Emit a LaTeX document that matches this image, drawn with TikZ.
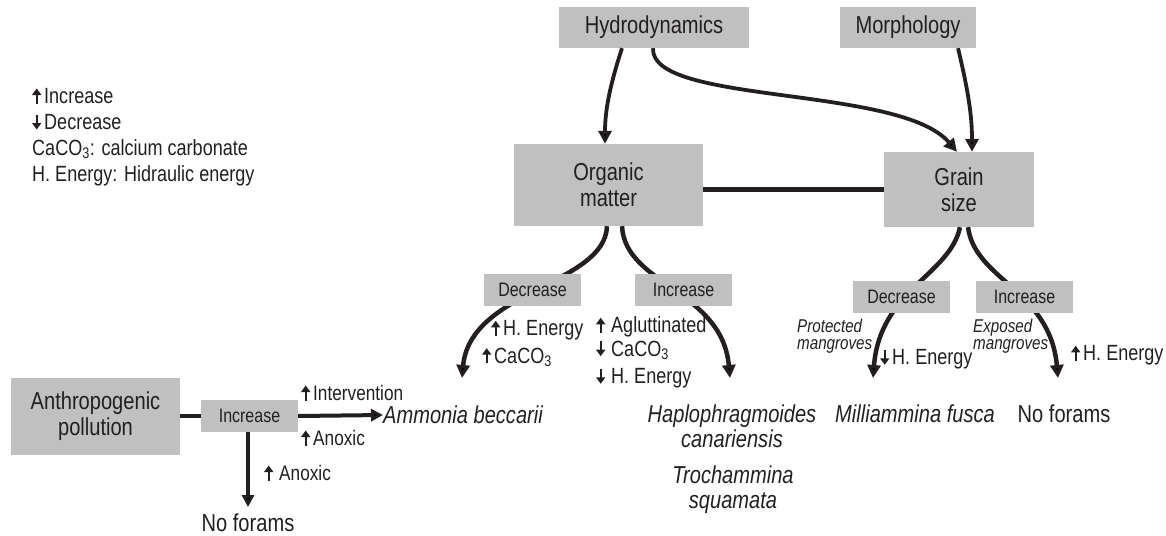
\documentclass[tikz,border=0pt]{standalone}
\usepackage{fontspec}
\setmainfont[FakeStretch=0.82]{Liberation Sans}
\usetikzlibrary{arrows.meta}
\definecolor{ink}{HTML}{231F20}
\definecolor{boxgray}{HTML}{C0C0C0}
% small up / down arrows used inside the labels
\newcommand{\upar}{\tikz[baseline=0pt]\draw[ink,line width=2.2pt,-{Triangle[length=6.5pt,width=9pt]}] (0pt,0pt) -- (0pt,15pt);\hspace{3pt}}
\newcommand{\dnar}{\tikz[baseline=0pt]\draw[ink,line width=2.2pt,-{Triangle[length=6.5pt,width=9pt]}] (0pt,15pt) -- (0pt,0pt);\hspace{3pt}}

\begin{document}
\begin{tikzpicture}[x=1pt, y=-1pt,
      box/.style={fill=boxgray, inner sep=0pt, align=center, text=ink,
        font=\fontsize{24.5}{26}\selectfont},
      smallbox/.style={fill=boxgray, inner sep=0pt, minimum width=97pt,
        minimum height=32pt, text=ink, font=\fontsize{19.5}{21}\selectfont},
      lbl/.style={text=ink, inner sep=0pt, anchor=west, font=\fontsize{22}{23}\selectfont},
      species/.style={text=ink, inner sep=0pt, align=center,
        font=\fontsize{24.5}{25}\selectfont\itshape},
      mangr/.style={text=ink, inner sep=0pt, anchor=west, align=left,
        font=\fontsize{18.5}{17}\selectfont\itshape},
      link/.style={draw=ink, line width=4.5pt},
      flow/.style={link, -{Triangle[length=13pt,width=13pt]}}]
    \useasboundingbox (0,0) rectangle (1166,535);

    % legend
    \node[lbl] (lgup) at (32,96) {\upar Increase};
    \node[lbl] (lgdn) at (32,122) {\dnar Decrease};
    \node[lbl] (lgca) at (32,149) {CaCO\textsubscript{3}: calcium carbonate};
    \node[lbl] (lghe) at (32,176) {H. Energy: Hidraulic energy};

    % main boxes
    \node[box, minimum width=190pt, minimum height=41pt] (hydro) at (654,27.5) {Hydrodynamics};
    \node[box, minimum width=136pt, minimum height=41pt] (morph) at (908,27.5) {Morphology};
    \node[box, minimum width=189pt, minimum height=82pt] (om) at (608.5,185) {Organic\\matter};
    \node[box, minimum width=150pt, minimum height=75pt] (gs) at (959,189.5) {Grain\\size};

    \draw[flow, line width=3.8pt] ([xshift=-32pt]hydro.south) .. controls (610,85) and (605,110) .. ([xshift=-3.5pt]om.north);
    \draw[flow, line width=3.8pt] ([xshift=-1pt]hydro.south) .. controls (650,105) and (900,85) .. ([xshift=-2pt]gs.north);
    \draw[flow, line width=3.8pt] ([xshift=50pt]morph.south) .. controls (968,90) and (972,115) .. ([xshift=13pt]gs.north);
    \draw[link] (gs.west) -- (gs.west -| om.east);

    % branches below organic matter and grain size
    \coordinate (omL) at (462,378);
    \coordinate (omR) at (730,378);
    \coordinate (gsL) at (873,378);
    \coordinate (gsR) at (1058,378);
    \draw[flow] ([xshift=-1.5pt]om.south) .. controls (605,285) and (470,290) .. (omL);
    \draw[flow] ([xshift=13.5pt]om.south) .. controls (625,285) and (722,290) .. (omR);
    \draw[flow] ([xshift=1pt]gs.south) .. controls (950,275) and (880,290) .. (gsL);
    \draw[flow] ([xshift=9pt]gs.south) .. controls (975,280) and (1050,290) .. (gsR);

    \node[smallbox] (omdec) at (532.5,290) {Decrease};
    \node[smallbox] (ominc) at (683.5,290) {Increase};
    \node[smallbox] (gsdec) at (901.5,296.5) {Decrease};
    \node[smallbox] (gsinc) at (1024.5,296.5) {Increase};

    \node[lbl] (omdecE) at (491,330) {\upar H. Energy};
    \node[lbl] (omdecC) at (482,357) {\upar CaCO\textsubscript{3}};
    \node[lbl] (omincA) at (596,327) {\upar\hspace{3pt}Agluttinated};
    \node[lbl] (omincC) at (596,350) {\dnar\hspace{3pt}CaCO\textsubscript{3}};
    \node[lbl] (omincE) at (596,378) {\dnar\hspace{3pt}H. Energy};

    \node[mangr] (prot) at (797,336) {Protected\\mangroves};
    \node[mangr] (expo) at (973,336) {Exposed\\mangroves};
    \node[lbl] (gsdecE) at (880,359) {\dnar H. Energy};
    \node[lbl] (gsincE) at (1071,355) {\upar H. Energy};

    \node[species] (haplo) at (732,426) {Haplophragmoides\\canariensis};
    \node[species] (trocha) at (733,490) {Trochammina\\squamata};
    \node[species, anchor=west] (milli) at (835,414) {Milliammina fusca};
    \node[text=ink, inner sep=0pt, font=\fontsize{24.5}{26}\selectfont] (noforR) at (1064,414) {No forams};

    % anthropogenic branch
    \node[box, minimum width=169pt, minimum height=77pt] (anthro) at (95.5,416.5) {Anthropogenic\\pollution};
    \node[smallbox] (apinc) at (249.5,416) {Increase};
    \node[species, anchor=west] (ammonia) at (383,415) {Ammonia beccarii};
    \node[text=ink, inner sep=0pt, font=\fontsize{24.5}{26}\selectfont] (noforL) at (248,523) {No forams};
    \draw[link, line width=4pt] (anthro.east |- apinc.west) -- (apinc.west);
    \draw[link, line width=4pt, -{Triangle[length=12pt,width=12pt]}] (apinc.east) -- (ammonia.west);
    \draw[link, line width=4pt, -{Triangle[length=12pt,width=12pt]}] ([xshift=-1.5pt]apinc.south) -- ([xshift=-1.5pt]apinc.south |- 0,507);
    \node[lbl, font=\fontsize{21}{22}\selectfont] (apint) at (301,393) {\upar Intervention};
    \node[lbl, font=\fontsize{21}{22}\selectfont] (apanx) at (301,438) {\upar Anoxic};
    \node[lbl, font=\fontsize{21}{22}\selectfont] (apanx2) at (264,473) {\upar\hspace{3pt}Anoxic};
\end{tikzpicture}
\end{document}
